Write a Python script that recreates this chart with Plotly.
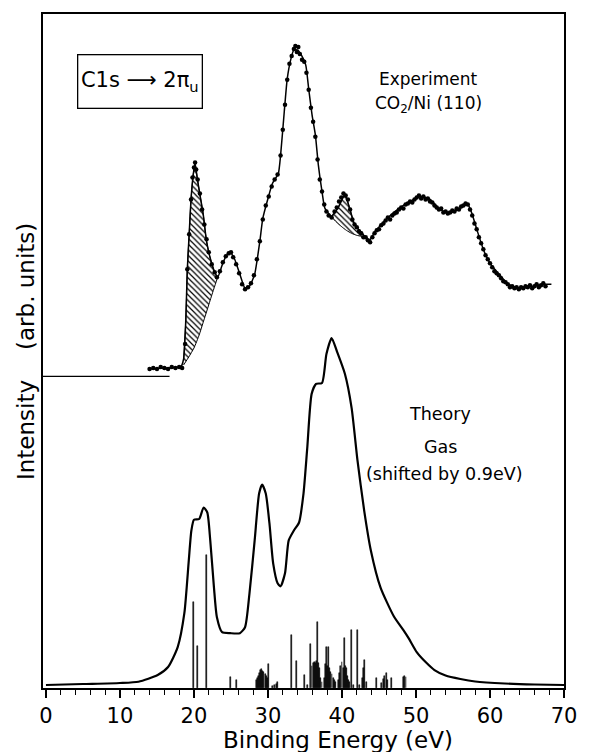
import plotly.graph_objects as go

# ---------------- data ----------------
# Theory (gas) envelope, binding energy (eV) vs intensity (arb. units)
theory_x = [0, 5, 10, 12.5, 15.1, 16.5, 17.8, 18.7, 19.3, 19.65, 20.0, 20.7, 21.3, 21.8,
            22.2, 22.7, 23.1, 23.8, 24.9, 26.2, 26.9, 27.5, 28.2, 28.8, 29.2, 29.7, 30.2,
            30.7, 31.3, 31.7, 32.3, 32.8, 33.5, 34.2, 34.8, 35.3, 35.9, 36.5, 37.3, 37.9,
            38.6, 39.3, 40.4, 41.3, 42.1, 43.0, 43.9, 45.2, 47.0, 48.3, 49.0, 50.1, 51.3,
            52.5, 54.0, 56.0, 58.0, 62.0, 66.0, 70.0]
theory_y = [3, 4, 5, 6.3, 13, 21, 41, 75, 128, 158, 168.7, 169.5, 181, 176,
            148, 101, 71, 56, 55, 55, 61, 95, 148, 195, 204, 195, 165,
            125, 105, 102, 115, 148, 158, 166, 195, 240, 295, 305, 306, 335,
            351, 338, 315, 281, 228, 178, 138, 101, 72, 58, 50, 36, 26,
            18, 12.5, 9, 6.5, 4.5, 3.5, 3]

# Theory stick spectrum
stick_x = [19.95, 20.45, 21.75, 24.9, 25.8,
           28.4, 28.55, 28.7, 28.85, 29.0, 29.15, 29.3, 29.45, 29.6, 29.75, 29.9, 30.05,
           30.6, 30.9, 31.1, 31.3,
           33.15, 33.9, 34.9,
           35.4, 35.8, 35.95, 36.1, 36.25, 36.4, 36.55, 36.7, 36.85, 37.0, 37.15, 37.3,
           37.6, 37.75, 37.9, 38.05, 38.2, 38.35, 38.5, 38.65, 38.8, 38.95, 39.1,
           39.5, 39.7, 39.85, 40.0, 40.15, 40.3, 40.45, 40.6, 40.75, 40.9, 41.05, 41.35,
           41.6, 42.15, 42.4,
           42.75, 42.9, 43.1, 43.25,
           44.6, 45.4, 45.6, 45.8, 45.95, 46.1, 46.75,
           48.35, 48.5, 48.65]
stick_h = [86, 42, 133, 10.7, 8,
           8, 10, 12, 15, 18, 19, 17, 16, 14, 12, 10, 24,
           2, 3, 4, 6,
           53, 27, 13,
           3, 44, 22, 25, 26, 25, 27, 66, 25, 20, 10, 6,
           10, 24, 41, 22, 41, 20, 16, 14, 10, 8, 6,
           8, 15, 22, 26, 20, 50, 22, 20, 12, 8, 6, 58,
           3, 58, 3,
           10, 20, 28, 6,
           10, 5, 9, 12, 15, 8, 10,
           11, 12, 11]

# Experiment CO2/Ni(110): smooth guide curve
exp_line_x = [13.8, 16.0, 18.2, 18.6, 18.9, 19.1, 19.35, 19.6, 19.9, 20.15, 20.45, 20.8,
              21.25, 21.7, 22.2, 22.75, 23.2, 23.8, 24.4, 25.0, 25.5, 26.2, 26.9, 27.5,
              28.2, 28.9, 29.3, 30.0, 30.6, 31.4, 31.7, 32.2, 32.6, 33.1, 33.5, 34.0,
              34.5, 35.1, 35.5, 35.95, 36.4, 36.8, 37.3, 37.7, 38.6, 39.5, 40.4, 41.0,
              41.7, 42.6, 43.7, 44.4, 46.1, 48.3, 50.6, 51.9, 53.2, 54.5, 55.9, 57.0,
              57.6, 58.3, 59.2, 60.1, 61.2, 62.3, 63.8, 66.0, 67.4, 68.3]
exp_line_y = [320, 321, 322, 330, 370, 420, 455, 490, 515, 526, 511, 495,
              475, 448, 431, 418, 412, 424, 434, 436, 430, 415, 401, 403,
              415, 448, 471, 491, 506, 516, 534, 578, 611, 631, 640, 640,
              635, 625, 601, 575, 555, 525, 498, 481, 473, 482, 495, 482,
              465, 457, 449, 457, 471, 484, 493, 490, 480, 476, 481, 485,
              475, 458, 438, 425, 415, 406, 401, 403, 405, 405]

# Experiment: measured points
exp_dot_x = [14.0, 14.5, 15.0, 15.5, 16.0, 16.5, 17.0, 17.5, 18.0, 18.4, 18.8, 19.1, 19.35,
             19.6, 19.8, 20.0, 20.15, 20.3, 20.5, 20.8, 21.1, 21.4, 21.7, 22.0, 22.4, 22.8,
             23.1, 23.5, 23.9, 24.3, 24.7, 25.0, 25.3, 25.7, 26.1, 26.5, 26.9, 27.3, 27.7,
             28.1, 28.5, 28.9, 29.3, 29.7, 30.1, 30.5, 30.9, 31.3, 31.7, 32.0, 32.3, 32.6,
             32.9, 33.2, 33.5, 33.7, 33.9, 34.1, 34.3, 34.6, 34.9, 35.2, 35.5, 35.8, 36.1,
             36.4, 36.7, 37.0, 37.3, 37.6, 37.9, 38.2, 38.6, 39.0, 39.3, 39.6, 39.9, 40.2,
             40.5, 40.8, 41.1, 41.4, 41.7, 42.0, 42.3, 42.6, 42.9, 43.2, 43.5, 43.8, 44.1,
             44.4, 44.7, 45.0, 45.3, 45.6, 45.9, 46.2, 46.5, 46.8, 47.1, 47.4, 47.7, 48.0,
             48.3, 48.6, 48.9, 49.2, 49.5, 49.8, 50.1, 50.4, 50.7, 51.0, 51.3, 51.6, 51.9,
             52.2, 52.5, 52.8, 53.1, 53.4, 53.7, 54.0, 54.3, 54.6, 54.9, 55.2, 55.5, 55.8,
             56.1, 56.4, 56.7, 57.0, 57.3, 57.6, 57.9, 58.2, 58.5, 58.8, 59.1, 59.4, 59.7,
             60.0, 60.3, 60.6, 60.9, 61.2, 61.5, 61.8, 62.1, 62.4, 62.7, 63.0, 63.3, 63.6,
             63.9, 64.2, 64.5, 64.8, 65.1, 65.4, 65.7, 66.0, 66.3, 66.6, 66.9, 67.2, 67.5]
exp_dot_y = [320, 321, 320, 322, 321, 320, 322, 321, 322, 321, 345, 420, 455,
             490, 512, 522, 527, 520, 510, 496, 480, 465, 450, 437, 425, 417,
             412, 418, 427, 433, 436, 437, 432, 425, 416, 405, 400, 402, 406,
             414, 430, 448, 470, 484, 493, 503, 510, 515, 534, 560, 585, 610,
             626, 634, 641, 644, 638, 643, 636, 630, 628, 617, 600, 582, 568,
             553, 530, 510, 498, 485, 478, 474, 472, 478, 482, 488, 492, 496,
             494, 490, 480, 470, 465, 462, 458, 456, 452, 452, 449, 447, 452,
             456, 459, 460, 464, 466, 469, 472, 470, 474, 476, 477, 480, 482,
             481, 485, 486, 488, 487, 490, 492, 494, 491, 493, 490, 491, 488,
             487, 484, 482, 480, 481, 477, 478, 476, 477, 479, 478, 481, 480,
             483, 484, 486, 485, 480, 474, 466, 460, 452, 446, 440, 434, 430,
             426, 422, 418, 416, 414, 411, 408, 407, 405, 402, 403, 401, 402,
             400, 402, 401, 403, 402, 404, 401, 403, 405, 402, 404, 406, 403]

# Lower boundaries of the hatched (difference) regions
hatch1_low_x = [18.6, 19.3, 20.0, 20.7, 21.3, 21.9, 22.45, 23.2]
hatch1_low_y = [324, 332, 341, 354, 368, 382, 395, 412]
hatch2_low_x = [38.6, 39.3, 39.9, 40.6, 41.3, 42.0, 42.6, 43.2, 43.7]
hatch2_low_y = [473, 467, 463, 459, 456, 454, 453, 451, 449]

# Experiment zero level (horizontal reference line)
exp_zero_level = 312.5
exp_zero_x = [-0.4, 16.7]

x_ticks = [0, 10, 20, 30, 40, 50, 60, 70]
x_ticklabels = ["0", "10", "20", "30", "40", "50", "60", "70"]

FONT = "DejaVu Sans"


def hatch_polygon(low_x, low_y):
    lo, hi = low_x[0], low_x[-1]
    up = [(x, y) for x, y in zip(exp_line_x, exp_line_y) if lo <= x <= hi]
    px = [p[0] for p in up] + low_x[::-1]
    py = [p[1] for p in up] + low_y[::-1]
    return px, py


fig = go.Figure()

# stick spectrum
fig.add_trace(go.Bar(x=stick_x, y=stick_h, width=0.13,
                     marker=dict(color="black", line=dict(color="black", width=0.5)),
                     hoverinfo="skip"))

# theory envelope
fig.add_trace(go.Scatter(x=theory_x, y=theory_y, mode="lines",
                         line=dict(color="black", width=2.2, shape="spline", smoothing=0.6)))

# hatched regions
for lx, ly in [(hatch1_low_x, hatch1_low_y), (hatch2_low_x, hatch2_low_y)]:
    hx, hy = hatch_polygon(lx, ly)
    fig.add_trace(go.Scatter(x=hx, y=hy, mode="lines", fill="toself",
                             fillcolor="rgba(0,0,0,0)",
                             fillpattern=dict(shape="\\", size=4, solidity=0.3,
                                              fgcolor="black", fgopacity=1),
                             line=dict(color="black", width=1, shape="spline", smoothing=0.5)))

# experiment guide line
fig.add_trace(go.Scatter(x=exp_line_x, y=exp_line_y, mode="lines",
                         line=dict(color="black", width=1.5, shape="spline", smoothing=0.5)))
# experiment points
fig.add_trace(go.Scatter(x=exp_dot_x, y=exp_dot_y, mode="markers",
                         marker=dict(color="black", size=4.5)))
# experiment zero line
fig.add_trace(go.Scatter(x=exp_zero_x, y=[exp_zero_level] * len(exp_zero_x), mode="lines",
                         line=dict(color="black", width=1.2)))

annotations = [
    dict(x=12.7, y=608, xref="x", yref="y", text="C1s ⟶ 2π<sub>u</sub>", showarrow=False,
         font=dict(family=FONT, size=21, color="black"), bordercolor="black", borderwidth=1.3,
         borderpad=2, width=119, height=48, align="center"),
    dict(x=51.7, y=611, xref="x", yref="y", text="Experiment", showarrow=False,
         font=dict(family=FONT, size=17, color="black")),
    dict(x=51.7, y=585, xref="x", yref="y", text="CO<sub>2</sub>/Ni (110)", showarrow=False,
         font=dict(family=FONT, size=17, color="black")),
    dict(x=53.3, y=275, xref="x", yref="y", text="Theory", showarrow=False,
         font=dict(family=FONT, size=17.5, color="black")),
    dict(x=53.3, y=242, xref="x", yref="y", text="Gas", showarrow=False,
         font=dict(family=FONT, size=17.5, color="black")),
    dict(x=53.8, y=215, xref="x", yref="y", text="(shifted by 0.9eV)", showarrow=False,
         font=dict(family=FONT, size=17.5, color="black")),
    dict(x=39.4, y=-0.077, xref="x", yref="paper", text="Binding Energy (eV)", showarrow=False,
         font=dict(family=FONT, size=23, color="black"), xanchor="center", yanchor="middle"),
    dict(x=-0.034, y=402.5, xref="paper", yref="y", text="(arb. units)", showarrow=False,
         textangle=-90, xanchor="center", yanchor="middle",
         font=dict(family=FONT, size=23, color="black")),
    dict(x=-0.034, y=259, xref="paper", yref="y", text="Intensity", showarrow=False,
         textangle=-90, xanchor="center", yanchor="middle",
         font=dict(family=FONT, size=23, color="black")),
]

fig.update_layout(
    width=589, height=752,
    margin=dict(l=43, r=16, t=12, b=64),
    paper_bgcolor="white", plot_bgcolor="white",
    showlegend=False,
    annotations=annotations,
    bargap=0,
    xaxis=dict(range=[-0.4, 70], tickvals=x_ticks, ticktext=x_ticklabels,
               ticks="outside", ticklen=8, tickwidth=1.5, tickcolor="black",
               showline=True, linewidth=1.5, linecolor="black", mirror=True,
               showgrid=False, zeroline=False,
               tickfont=dict(family=FONT, size=21, color="black"),
               minor=dict(dtick=2, tick0=0, ticks="outside", ticklen=5, tickwidth=1.2,
                          tickcolor="black", showgrid=False)),
    yaxis=dict(range=[0, 676], showticklabels=False, ticks="",
               showline=True, linewidth=1.5, linecolor="black", mirror=True,
               showgrid=False, zeroline=False),
)

fig.write_html("out.html")
